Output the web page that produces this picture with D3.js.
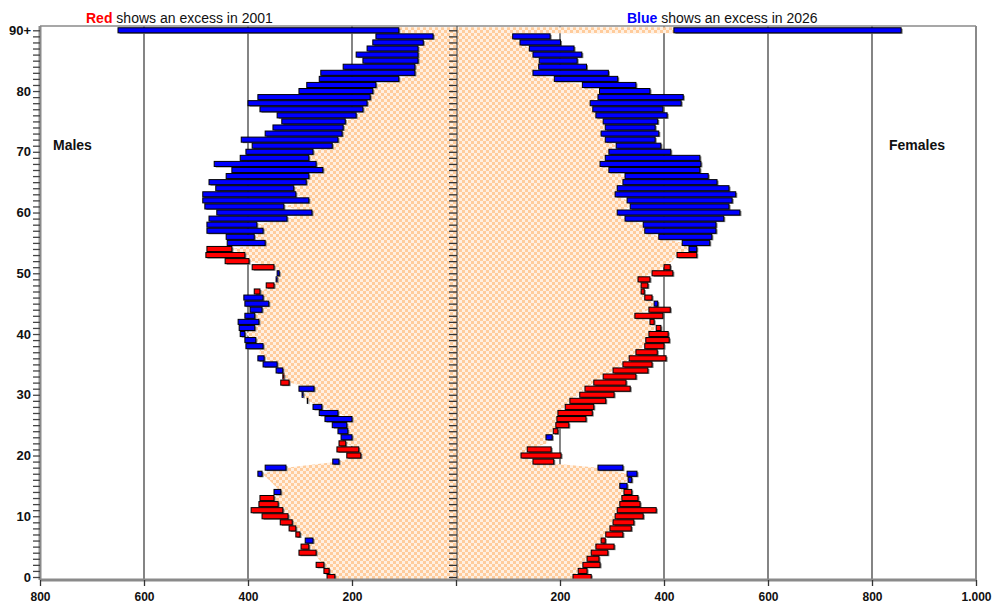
<!DOCTYPE html>
<html>
<head>
<meta charset="utf-8">
<script src="https://cdn.jsdelivr.net/npm/d3@7"></script>
<style>
  body { margin: 0; background: #fff; }
  svg { display: block; font-family: "Liberation Sans", Arial, sans-serif; }
</style>
</head>
<body>
<div id="chart"></div>
<script>
// ages 0..89 and 90+ (last entry)
const ages = d3.range(0, 91);

const male2001 = [248, 254, 269, 265, 302, 298, 275, 308, 321, 338,
  373, 394, 379, 377, 337, 348, 360, 373, 327, 225,
  210, 229, 225, 200, 208, 210, 200, 227, 258, 285,
  294, 273, 337, 333, 333, 344, 369, 380, 371, 385,
  406, 387, 379, 387, 373, 360, 371, 388, 365, 344,
  340, 392, 444, 481, 479, 367, 388, 371, 383, 325,
  277, 331, 283, 308, 312, 288, 283, 256, 269, 283,
  275, 238, 227, 219, 217, 213, 192, 179, 171, 165,
  160, 154, 110, 79, 79, 73, 73, 73, 63, 44,
  110];
const male2026 = [233, 244, 254, 265, 269, 283, 290, 300, 308, 315,
  323, 333, 342, 350, 350, 348, 360, 381, 367, 237,
  183, 187, 212, 221, 227, 238, 252, 263, 275, 286,
  296, 302, 321, 331, 346, 371, 381, 380, 404, 406,
  415, 417, 419, 406, 396, 406, 408, 377, 350, 346,
  344, 350, 398, 406, 431, 440, 442, 479, 479, 475,
  460, 483, 487, 487, 462, 475, 442, 431, 465, 415,
  404, 392, 413, 367, 352, 335, 344, 377, 400, 381,
  302, 287, 263, 260, 217, 179, 192, 171, 160, 154,
  650];
const female2001 = [260, 252, 277, 275, 292, 304, 287, 321, 337, 342,
  360, 385, 354, 350, 338, 315, 331, 329, 273, 188,
  202, 183, 176, 173, 196, 217, 250, 262, 265, 288,
  304, 335, 327, 346, 369, 377, 404, 387, 400, 410,
  408, 394, 381, 398, 412, 381, 377, 362, 369, 373,
  417, 412, 415, 463, 448, 435, 390, 363, 360, 325,
  310, 335, 329, 306, 310, 321, 325, 294, 277, 287,
  294, 308, 287, 279, 287, 283, 269, 263, 258, 273,
  276, 243, 189, 148, 159, 160, 148, 141, 123, 109,
  419];
const female2026 = [225, 235, 244, 252, 260, 269, 279, 288, 296, 302,
  306, 310, 315, 319, 323, 329, 338, 348, 321, 148,
  125, 137, 176, 185, 187, 192, 194, 196, 210, 219,
  238, 248, 265, 283, 302, 321, 333, 346, 363, 365,
  371, 385, 373, 344, 371, 388, 363, 356, 356, 350,
  377, 400, 415, 425, 463, 488, 492, 500, 500, 515,
  546, 525, 531, 538, 525, 502, 485, 469, 471, 469,
  413, 394, 383, 390, 383, 388, 406, 398, 433, 437,
  373, 346, 311, 293, 251, 233, 242, 227, 201, 181,
  856];

const yTickAges = [0, 10, 20, 30, 40, 50, 60, 70, 80, 90];
const yTickLabels = ["0", "10", "20", "30", "40", "50", "60", "70", "80", "90+"];
const xTickValues = [-800, -600, -400, -200, 0, 200, 400, 600, 800, 1000];
const xTickLabels = ["800", "600", "400", "200", "", "200", "400", "600", "800", "1.000"];
const gridValues = [-600, -400, -200, 200, 400, 600, 800];

const W = 992, H = 604;
const pLeft = 40, pRight = 976, pTop = 26, pBottom = 580;

const x = d3.scaleLinear().domain([-800, 1000]).range([pLeft, pRight]);
const y = d3.scaleLinear().domain([0, 90]).range([577, 30.3]);
const rowH = y(0) - y(1);

const svg = d3.select('#chart').append('svg')
  .attr('width', W).attr('height', H);

const defs = svg.append('defs');
const pat = defs.append('pattern')
  .attr('id', 'chk').attr('width', 6).attr('height', 6)
  .attr('patternUnits', 'userSpaceOnUse');
pat.append('rect').attr('width', 6).attr('height', 6).attr('fill', '#fff0e2');
pat.append('rect').attr('width', 3).attr('height', 3).attr('fill', '#ffcc9c');
pat.append('rect').attr('x', 3).attr('y', 3).attr('width', 3).attr('height', 3).attr('fill', '#ffcc9c');

// grid
svg.append('g').selectAll('line').data(gridValues).join('line')
  .attr('x1', d => x(d)).attr('x2', d => x(d))
  .attr('y1', pTop).attr('y2', pBottom)
  .attr('stroke', '#333').attr('stroke-width', 1.2);

// overlap (minimum of both years) as checkered area
function overlapArea(a, b, sign) {
  const mins = ages.map(i => Math.min(a[i], b[i]));
  const pts = [{ age: -0.5, v: mins[0] }];
  for (let i = 0; i < 90; i++) pts.push({ age: i, v: mins[i] });
  // 90+ row is drawn as a flat block
  pts.push({ age: 89.5, v: mins[89] }, { age: 89.5, v: mins[90] }, { age: 90.5, v: mins[90] });
  const area = d3.area()
    .y(d => y(d.age))
    .x0(x(0))
    .x1(d => x(sign * d.v))
    .curve(d3.curveLinear);
  svg.append('path').datum(pts).attr('d', area).attr('fill', 'url(#chk)');
}
overlapArea(male2001, male2026, -1);
overlapArea(female2001, female2026, 1);

// excess bars
function excess(a, b, sign) {
  const rows = ages.filter(i => a[i] !== b[i]).map(i => ({
    age: i,
    lo: Math.min(a[i], b[i]),
    hi: Math.max(a[i], b[i]),
    color: a[i] > b[i] ? '#ff0000' : '#0000ff'
  }));
  const g = svg.append('g');
  const rx = d => Math.min(x(sign * d.lo), x(sign * d.hi));
  const rw = d => Math.abs(x(sign * d.hi) - x(sign * d.lo));
  g.selectAll('rect.sh').data(rows).join('rect').attr('class', 'sh')
    .attr('x', d => rx(d) + 1.5).attr('y', d => y(d.age) - rowH / 2 + 1.5)
    .attr('width', rw).attr('height', rowH - 1)
    .attr('fill', '#7a7a7a');
  g.selectAll('rect.bar').data(rows).join('rect').attr('class', 'bar')
    .attr('x', rx).attr('y', d => y(d.age) - rowH / 2 + 0.5)
    .attr('width', rw).attr('height', rowH - 1)
    .attr('fill', d => d.color).attr('stroke', '#000').attr('stroke-width', 1);
}
excess(male2001, male2026, -1);
excess(female2001, female2026, 1);

// frame
svg.append('line').attr('x1', pLeft).attr('x2', pRight).attr('y1', pTop).attr('y2', pTop)
  .attr('stroke', '#8a8a8a').attr('stroke-width', 1.5);
svg.append('line').attr('x1', pRight).attr('x2', pRight).attr('y1', pTop).attr('y2', pBottom)
  .attr('stroke', '#8a8a8a').attr('stroke-width', 2);

// left age axis
const yAxisL = d3.axisLeft(y).tickValues(ages).tickSize(7).tickFormat('');
svg.append('g').attr('transform', `translate(${pLeft},0)`).call(yAxisL)
  .call(g => g.select('.domain').attr('stroke', '#8a8a8a').attr('stroke-width', 3).attr('d', `M0,${pTop}V${pBottom}`))
  .call(g => g.selectAll('.tick line').attr('stroke', '#444').attr('stroke-width', 1.3));
svg.append('g').selectAll('text').data(yTickAges).join('text')
  .attr('x', 31).attr('y', d => y(d)).attr('dy', '0.36em')
  .attr('text-anchor', 'end').attr('font-size', 13).attr('font-weight', 'bold')
  .attr('fill', '#111')
  .text((d, i) => yTickLabels[i]);

// centre age axis
const yAxisC = d3.axisLeft(y).tickValues(ages).tickSize(8).tickFormat('');
svg.append('g').attr('transform', `translate(${x(0) + 1},0)`).call(yAxisC)
  .call(g => g.select('.domain').attr('stroke', '#555').attr('stroke-width', 1.2).attr('d', `M0,${pTop}V${pBottom}`))
  .call(g => g.selectAll('.tick line').attr('stroke', '#333').attr('stroke-width', 1.3));

// bottom axis
const xAxis = d3.axisBottom(x).tickValues(xTickValues).tickSize(6)
  .tickFormat((d, i) => xTickLabels[i]);
svg.append('g').attr('transform', `translate(0,${pBottom})`).call(xAxis)
  .call(g => g.select('.domain').attr('stroke', '#8a8a8a').attr('stroke-width', 3).attr('d', `M${pLeft},0H${pRight}`))
  .call(g => g.selectAll('.tick line').attr('stroke', '#333').attr('stroke-width', 1.3))
  .call(g => g.selectAll('.tick text').attr('font-size', 12).attr('font-weight', 'bold')
    .attr('fill', '#111').attr('font-family', '"Liberation Sans", Arial, sans-serif').attr('y', 12));

// captions
const cap1 = svg.append('text').attr('x', 86).attr('y', 23).attr('font-size', 14);
cap1.append('tspan').attr('fill', '#ff0000').attr('font-weight', 'bold').text('Red');
cap1.append('tspan').attr('fill', '#111').text(' shows an excess in 2001');
const cap2 = svg.append('text').attr('x', 627).attr('y', 23).attr('font-size', 14);
cap2.append('tspan').attr('fill', '#0000ff').attr('font-weight', 'bold').text('Blue');
cap2.append('tspan').attr('fill', '#111').text(' shows an excess in 2026');

svg.append('text').attr('x', 53).attr('y', 150).attr('font-size', 14).attr('font-weight', 'bold')
  .attr('fill', '#111').text('Males');
svg.append('text').attr('x', 889).attr('y', 150).attr('font-size', 14).attr('font-weight', 'bold')
  .attr('fill', '#111').text('Females');
</script>
</body>
</html>
